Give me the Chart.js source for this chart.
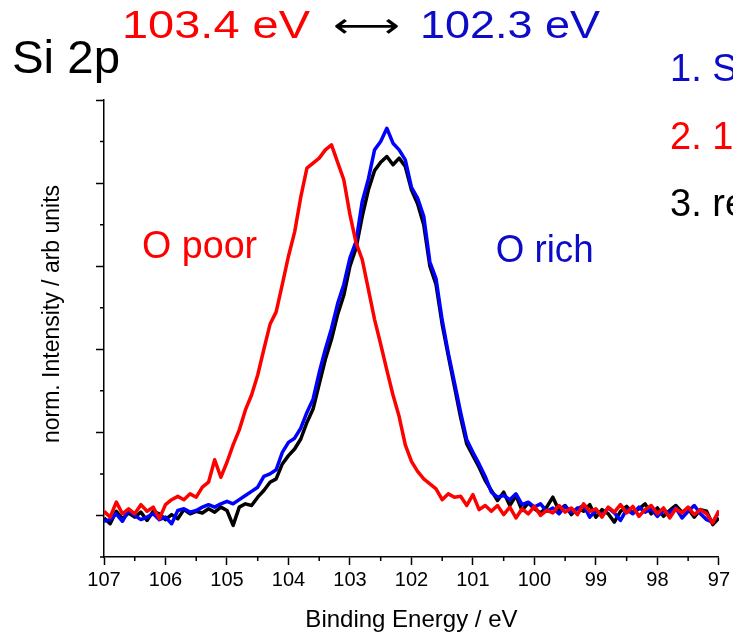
<!DOCTYPE html>
<html>
<head>
<meta charset="utf-8">
<script src="https://cdn.jsdelivr.net/npm/chart.js@4.4.0/dist/chart.umd.min.js"></script>
<style>
  html, body { margin: 0; padding: 0; background: #fff; }
  #wrap { width: 733px; height: 636px; }
</style>
</head>
<body>
<div id="wrap"><canvas id="chartCanvas" width="733" height="636"></canvas></div>
<script>
// binding energy axis (eV), 0.1 eV steps
const energy = [
  107.0, 106.9, 106.8, 106.7, 106.6, 106.5, 106.4, 106.3, 106.2, 106.1,
  106.0, 105.9, 105.8, 105.7, 105.6, 105.5, 105.4, 105.3, 105.2, 105.1,
  105.0, 104.9, 104.8, 104.7, 104.6, 104.5, 104.4, 104.3, 104.2, 104.1,
  104.0, 103.9, 103.8, 103.7, 103.6, 103.5, 103.4, 103.3, 103.2, 103.1,
  103.0, 102.9, 102.8, 102.7, 102.6, 102.5, 102.4, 102.3, 102.2, 102.1,
  102.0, 101.9, 101.8, 101.7, 101.6, 101.5, 101.4, 101.3, 101.2, 101.1,
  101.0, 100.9, 100.8, 100.7, 100.6, 100.5, 100.4, 100.3, 100.2, 100.1,
  100.0, 99.9, 99.8, 99.7, 99.6, 99.5, 99.4, 99.3, 99.2, 99.1,
  99.0, 98.9, 98.8, 98.7, 98.6, 98.5, 98.4, 98.3, 98.2, 98.1,
  98.0, 97.9, 97.8, 97.7, 97.6, 97.5, 97.4, 97.3, 97.2, 97.1,
  97.0
];

// sample 2 (red, O poor)
const oPoor = [
  0.05, -0.02, 0.16, 0.02, 0.08, 0.02, 0.13, 0.05, 0.10, -0.04,
  0.13, 0.19, 0.23, 0.19, 0.26, 0.22, 0.34, 0.40, 0.67, 0.46,
  0.64, 0.85, 1.03, 1.27, 1.45, 1.69, 2.00, 2.30, 2.45, 2.78,
  3.12, 3.41, 3.83, 4.18, 4.24, 4.30, 4.40, 4.46, 4.25, 4.04,
  3.62, 3.28, 3.08, 2.72, 2.36, 2.06, 1.75, 1.45, 1.19, 0.85,
  0.65, 0.53, 0.44, 0.38, 0.32, 0.19, 0.26, 0.22, 0.23, 0.12,
  0.25, 0.07, 0.12, 0.05, 0.12, 0.01, 0.10, -0.03, 0.08, 0.02,
  0.11, 0.00, 0.06, 0.03, 0.12, 0.04, 0.09, 0.01, 0.14, 0.05,
  0.08, -0.02, 0.10, 0.04, 0.13, 0.03, 0.11, -0.01, 0.07, 0.12,
  0.02, 0.09, -0.03, 0.08, 0.03, 0.10, 0.01, 0.07, 0.02, -0.09,
  0.06
];

// sample 1 (blue, O rich)
const oRich = [
  -0.07, -0.05, 0.02, -0.07, 0.06, 0.00, -0.05, -0.02, 0.02, -0.05,
  -0.02, -0.10, 0.06, 0.08, 0.04, 0.06, 0.10, 0.13, 0.10, 0.14,
  0.17, 0.14, 0.19, 0.24, 0.29, 0.34, 0.47, 0.50, 0.55, 0.76,
  0.88, 0.93, 1.05, 1.24, 1.40, 1.72, 2.00, 2.25, 2.55, 2.78,
  3.10, 3.30, 3.78, 4.05, 4.40, 4.50, 4.66, 4.48, 4.40, 4.28,
  3.95, 3.82, 3.60, 3.05, 2.85, 2.35, 1.95, 1.60, 1.24, 0.91,
  0.76, 0.62, 0.47, 0.28, 0.22, 0.24, 0.19, 0.26, 0.13, 0.16,
  0.10, 0.14, 0.05, 0.09, 0.02, 0.11, 0.04, 0.08, 0.12, -0.02,
  0.06, 0.00, 0.09, 0.03, -0.06, 0.07, 0.02, 0.10, 0.04, 0.08,
  -0.01, 0.06, 0.03, 0.09, -0.03, 0.05, 0.12, 0.02, -0.05, -0.08,
  0.04
];

// sample 3 (black, reference)
const reference = [
  -0.03, -0.10, 0.05, -0.04, 0.03, -0.02, 0.04, -0.06, 0.05, 0.02,
  -0.05, 0.01, -0.04, 0.07, 0.02, 0.05, 0.03, 0.08, 0.04, 0.10,
  0.06, -0.12, 0.10, 0.14, 0.12, 0.22, 0.30, 0.40, 0.44, 0.62,
  0.72, 0.80, 0.92, 1.12, 1.28, 1.58, 1.88, 2.12, 2.42, 2.65,
  3.00, 3.22, 3.60, 3.92, 4.15, 4.25, 4.32, 4.22, 4.30, 4.20,
  3.92, 3.75, 3.50, 3.00, 2.78, 2.30, 1.92, 1.55, 1.18, 0.86,
  0.72, 0.58, 0.42, 0.30, 0.18, 0.28, 0.12, 0.24, 0.06, 0.15,
  0.08, 0.03, 0.10, 0.22, 0.06, 0.12, 0.01, 0.09, 0.05, 0.13,
  -0.02, 0.07, 0.02, -0.08, 0.05, 0.11, 0.03, 0.08, 0.14, 0.02,
  0.09, -0.01, 0.06, 0.12, 0.04, 0.08, -0.02, 0.07, 0.05, -0.11,
  -0.03
];

const xMajor = [107, 106, 105, 104, 103, 102, 101, 100, 99, 98, 97];
const xMinor = [106.5, 105.5, 104.5, 103.5, 102.5, 101.5, 100.5, 99.5, 98.5, 97.5];
const yMajor = [0, 1, 2, 3, 4, 5];
const yMinor = [-0.5, 0.5, 1.5, 2.5, 3.5, 4.5];

const FONT = "'Liberation Sans', Arial, sans-serif";
Chart.defaults.font.family = FONT;
Chart.defaults.color = "#000";

function pts(values) {
  return energy.map((e, i) => ({ x: e, y: values[i] }));
}

// text at a given size, optionally squeezed/stretched to a width
function drawText(c, text, x, y, size, color, width, family) {
  c.save();
  c.font = size + "px " + (family || FONT);
  c.fillStyle = color;
  c.textAlign = "left";
  c.textBaseline = "alphabetic";
  const w = c.measureText(text).width;
  c.translate(x, y);
  if (width) c.scale(width / w, 1);
  c.fillText(text, 0, 0);
  c.restore();
}

// extra marks and texts: minor ticks, peak labels, legend text
const annotate = {
  id: "annotate",
  afterDraw(chart) {
    const c = chart.ctx;
    const xs = chart.scales.x;
    const ys = chart.scales.y;
    c.save();
    c.strokeStyle = "#000";
    c.lineWidth = 1.5;
    c.beginPath();
    xMinor.forEach((v) => {
      const px = xs.getPixelForValue(v);
      c.moveTo(px, ys.bottom);
      c.lineTo(px, ys.bottom + 4);
    });
    yMinor.forEach((v) => {
      const py = ys.getPixelForValue(v);
      c.moveTo(xs.left, py);
      c.lineTo(xs.left - 4, py);
    });
    c.stroke();
    c.restore();

    drawText(c, "Si 2p", 12, 73, 46, "#000", 108);
    drawText(c, "103.4 eV", 122, 38, 38, "#ff0000", 188);
    drawText(c, "\u27F7", 333, 37, 34, "#000", 67, "'DejaVu Sans', sans-serif");
    drawText(c, "102.3 eV", 420, 38, 38, "#0b0bc8", 180);

    drawText(c, "1. S", 670, 81, 38, "#0b0bc8");
    drawText(c, "2. 1", 670, 149, 38, "#ff0000");
    drawText(c, "3. re", 670, 216, 38, "#000");

    drawText(c, "O poor", xs.getPixelForValue(106.38), ys.getPixelForValue(3.1), 38, "#ff0000", 115);
    drawText(c, "O rich", xs.getPixelForValue(100.63), ys.getPixelForValue(3.05), 38, "#0b0bc8", 98);

    // y axis title
    c.save();
    c.translate(53, 314);
    c.rotate(-Math.PI / 2);
    c.font = "23px " + FONT;
    c.fillStyle = "#000";
    c.textAlign = "center";
    c.textBaseline = "middle";
    c.fillText("norm. Intensity / arb units", 0, 0);
    c.restore();
  },
};

const ctx = document.getElementById("chartCanvas").getContext("2d");
const chart = new Chart(ctx, {
  type: "line",
  data: {
    datasets: [
      { label: "O poor", data: pts(oPoor), borderColor: "#ff0000" },
      { label: "O rich", data: pts(oRich), borderColor: "#0000ff" },
      { label: "reference", data: pts(reference), borderColor: "#000000" },
    ],
  },
  options: {
    responsive: false,
    animation: false,
    elements: {
      point: { radius: 0 },
      line: { borderWidth: 3.5, tension: 0, borderJoinStyle: "round" },
    },
    layout: { padding: { top: 100, right: 13, left: 0, bottom: 0 } },
    plugins: {
      legend: { display: false },
      tooltip: { enabled: false },
    },
    scales: {
      x: {
        type: "linear",
        reverse: true,
        min: 97,
        max: 107,
        afterFit: (s) => { s.height = 79; },
        afterBuildTicks: (s) => { s.ticks = xMajor.map((v) => ({ value: v })); },
        ticks: {
          font: { size: 20 },
          color: "#000",
          padding: 3,
          maxRotation: 0,
          callback: (v) => String(v),
        },
        grid: {
          drawOnChartArea: false,
          drawTicks: true,
          tickLength: 8,
          tickColor: "#000",
          tickWidth: 1.5,
        },
        border: { color: "#000", width: 1.5 },
        title: {
          display: true,
          text: "Binding Energy / eV",
          font: { size: 24 },
          color: "#000",
          padding: { top: 4, bottom: 1 },
        },
      },
      y: {
        min: -0.5,
        max: 5,
        afterFit: (s) => { s.width = 104; },
        afterBuildTicks: (s) => { s.ticks = yMajor.map((v) => ({ value: v })); },
        ticks: { display: false },
        grid: {
          drawOnChartArea: false,
          drawTicks: true,
          tickLength: 8,
          tickColor: "#000",
          tickWidth: 1.5,
        },
        border: { color: "#000", width: 1.5 },
      },
    },
  },
  plugins: [annotate],
});
</script>
</body>
</html>
